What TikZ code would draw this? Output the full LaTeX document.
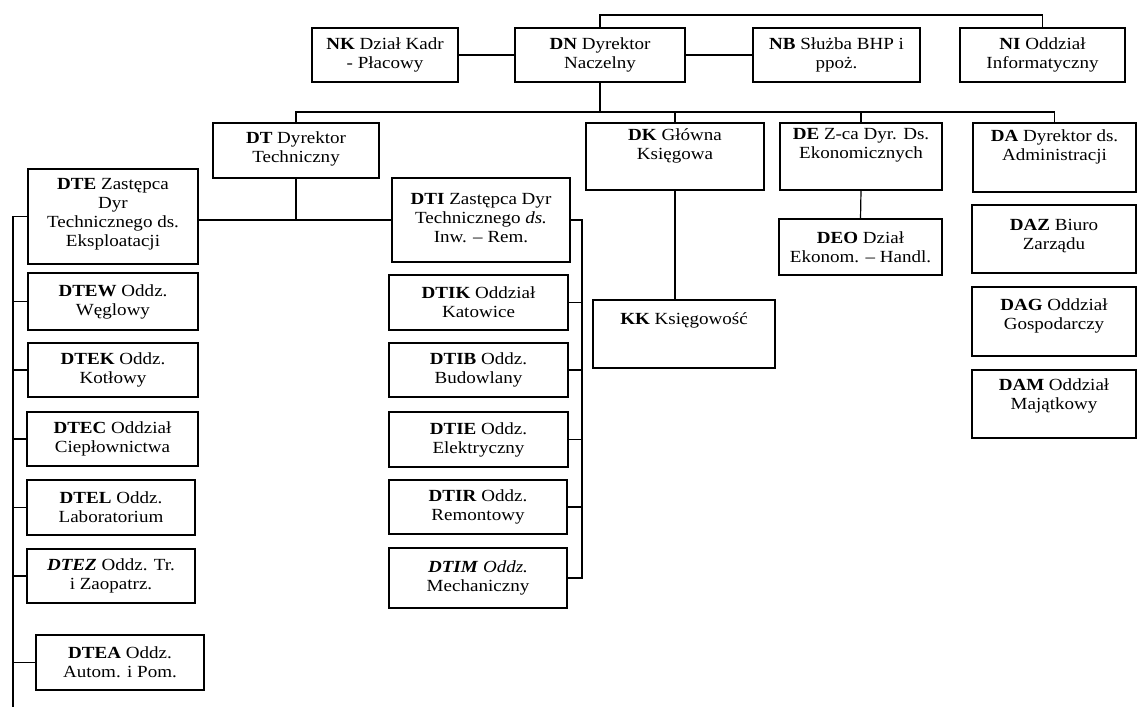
\documentclass[tikz,border=0pt]{standalone}
\usepackage{fontspec}
\setmainfont[FakeStretch=1.12]{Liberation Serif}
\usetikzlibrary{calc}
\tikzset{
  box/.style={draw, line width=1.3pt, inner sep=0pt, outer sep=0pt},
  lbl/.style={align=center, inner sep=0pt, font=\fontsize{17}{19}\selectfont},
  wire/.style={line width=1.2pt},
}
\newcommand\bx[7]{%
  \node[box, minimum width={#4-#2}, minimum height={#5-#3}] (#1) at ({(#2+#4)/2},{(#3+#5)/2}) {};
  \node[lbl] (#1-t) at ($(#1.center)+(0,#6)$) {#7};
}
\begin{document}
\begin{tikzpicture}[x=1pt,y=-1pt]
\useasboundingbox (0,0) rectangle (1139,707);
% top row
\bx{nk}{312}{28}{458}{82}{0}{\textbf{NK} Dział Kadr\\- Płacowy}
\bx{dn}{515}{28}{685}{82}{0}{\textbf{DN} Dyrektor\\Naczelny}
\bx{nb}{753}{28}{920}{82}{0}{\textbf{NB} Służba BHP i\\ppoż.}
\bx{ni}{960}{28}{1125}{82}{0}{\textbf{NI} Oddział\\Informatyczny}
% second row
\bx{dt}{213}{123}{379}{178}{-2}{\textbf{DT} Dyrektor\\Techniczny}
\bx{dk}{586}{123}{764}{190}{-11}{\textbf{DK} Główna\\Księgowa}
\bx{de}{780}{123}{942}{190}{-11}{\textbf{DE} Z-ca Dyr. Ds.\\Ekonomicznych}
\bx{da}{973}{123}{1136}{192}{-11}{\textbf{DA} Dyrektor ds.\\Administracji}
% deputies
\bx{dte}{28}{169}{198}{264}{-2}{\textbf{DTE} Zastępca\\Dyr\\Technicznego ds.\\Eksploatacji}
\bx{dti}{392}{178}{570}{262}{-2}{\textbf{DTI} Zastępca Dyr\\Technicznego \textit{ds.}\\Inw. -- Rem.}
\bx{deo}{779}{219}{942}{275}{0}{\textbf{DEO} Dział\\Ekonom. -- Handl.}
\bx{kk}{593}{300}{775}{368}{-14}{\textbf{KK} Księgowość}
% administration
\bx{daz}{972}{205}{1136}{273}{-3}{\textbf{DAZ} Biuro\\Zarządu}
\bx{dag}{972}{287}{1136}{356}{-6}{\textbf{DAG} Oddział\\Gospodarczy}
\bx{dam}{972}{370}{1136}{438}{-8}{\textbf{DAM} Oddział\\Majątkowy}
% exploitation column
\bx{dtew}{28}{273}{198}{330}{0}{\textbf{DTEW} Oddz.\\Węglowy}
\bx{dtek}{28}{343}{198}{397}{0}{\textbf{DTEK} Oddz.\\Kotłowy}
\bx{dtec}{27}{412}{198}{466}{0}{\textbf{DTEC} Oddział\\Ciepłownictwa}
\bx{dtel}{27}{480}{195}{535}{0}{\textbf{DTEL} Oddz.\\Laboratorium}
\bx{dtez}{27}{549}{195}{603}{0}{\textbf{\textit{DTEZ}} Oddz. Tr.\\i Zaopatrz.}
\bx{dtea}{36}{635}{204}{690}{0}{\textbf{DTEA} Oddz.\\Autom. i Pom.}
% investment column
\bx{dtik}{389}{275}{568}{330}{0}{\textbf{DTIK} Oddział\\Katowice}
\bx{dtib}{389}{343}{568}{397}{0}{\textbf{DTIB} Oddz.\\Budowlany}
\bx{dtie}{389}{412}{568}{467}{0}{\textbf{DTIE} Oddz.\\Elektryczny}
\bx{dtir}{389}{480}{567}{534}{0}{\textbf{DTIR} Oddz.\\Remontowy}
\bx{dtim}{389}{548}{567}{608}{0}{\textbf{\textit{DTIM}} \textit{Oddz.}\\Mechaniczny}
% connectors
\draw[wire] (dn.north) -- ++(0,-13) -| (ni.north);
\draw[wire] (nk.east) -- (dn.west);
\draw[wire] (dn.east) -- (nb.west);
\coordinate (bus) at (0,112);
\draw[wire] (dn.south) -- (dn.south |- bus);
\draw[wire] (dt.north) -- (dt.north |- bus) -- (da.north |- bus) -- (da.north);
\draw[wire] (dk.north) -- (dk.north |- bus);
\draw[wire] (de.north) -- (de.north |- bus);
\draw[wire] (dt.south) -- (dt.south |- dti.west);
\draw[wire] (dte.east |- dti.west) -- (dti.west);
\draw[wire] (dk.south) -- (dk.south |- kk.north);
\draw[wire] (de.south) -- (deo.north);
\coordinate (lb) at (13,707);
\draw[wire] (dte.west) -| (lb);
\foreach \n in {dtew,dtek,dtec,dtel,dtez,dtea} \draw[wire] (\n.west) -- (\n.west -| lb);
\coordinate (rb) at (582,0);
\draw[wire] (dti.east) -| (dtim.east -| rb) -- (dtim.east);
\foreach \n in {dtik,dtib,dtie,dtir} \draw[wire] (\n.east) -- (\n.east -| rb);
\end{tikzpicture}
\end{document}
